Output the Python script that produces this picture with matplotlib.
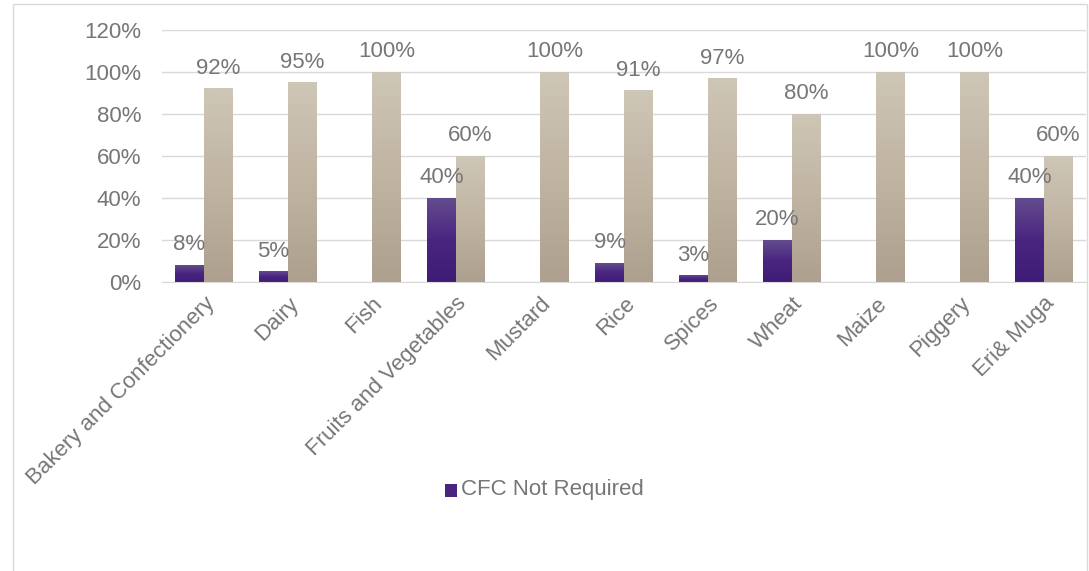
import numpy as np
import matplotlib
matplotlib.use("Agg")
import matplotlib.pyplot as plt
from matplotlib.patches import Rectangle
from matplotlib.colors import LinearSegmentedColormap

categories = ["Bakery and Confectionery", "Dairy", "Fish", "Fruits and Vegetables",
              "Mustard", "Rice", "Spices", "Wheat", "Maize", "Piggery", "Eri& Muga"]
not_required = [8, 5, 0, 40, 0, 9, 3, 20, 0, 0, 40]
required = [92, 95, 100, 60, 100, 91, 97, 80, 100, 100, 60]
yticks = [0, 20, 40, 60, 80, 100, 120]

plt.rcParams['font.family'] = ['Liberation Sans', 'DejaVu Sans']
grey = "#767676"
fs = 16

purple_cmap = LinearSegmentedColormap.from_list("p", ["#3e1c76", "#4a2580", "#634c8e"])
beige_cmap = LinearSegmentedColormap.from_list("b", ["#ada08f", "#c0b4a2", "#cec6b6"])

fig = plt.figure(figsize=(10.89, 5.71), dpi=100)
ax = fig.add_axes([162/1089, 1-282/571, 924/1089, 252/571])

x = np.arange(len(categories))
w = 0.345
grad = np.linspace(0, 1, 100).reshape(-1, 1)


def gradient_bars(xs, vals, cmap, label):
    bars = ax.bar(xs, vals, w, color="none", label=label)
    for b in bars:
        h = b.get_height()
        if h <= 0:
            continue
        x0 = b.get_x()
        ax.imshow(grad, extent=[x0, x0 + w, 0, h], origin="lower", cmap=cmap,
                  aspect="auto", zorder=2)
    for xi, v in zip(xs, vals):
        if v > 0:
            ax.annotate(f"{v}%", (xi, v), xytext=(0, 7), textcoords="offset points",
                        ha="center", va="bottom", fontsize=fs, color=grey)
    return bars


gradient_bars(x - w/2, not_required, purple_cmap, "CFC Not Required")
gradient_bars(x + w/2, required, beige_cmap, "_CFC Required")

ax.set_xlim(-0.5, len(categories) - 0.5)
ax.set_ylim(0, 120)
ax.set_yticks(yticks)
ax.set_yticklabels([f"{t}%" for t in yticks], fontsize=fs, color=grey)
ax.set_xticks(x)
ax.set_xticklabels(categories, rotation=45, ha="right", rotation_mode="anchor",
                   fontsize=fs, color=grey)
ax.tick_params(axis="y", length=0, pad=15)
ax.tick_params(axis="x", length=0, pad=8)
for s in ["top", "right", "left"]:
    ax.spines[s].set_visible(False)
ax.spines["bottom"].set_color("#d9d9d9")
ax.grid(axis="y", color="#d9d9d9", linewidth=1)
ax.set_axisbelow(True)

# legend (only the first series is shown)
fig.patches.append(Rectangle((445/1089, 1-497/571), 12/1089, 13/571,
                             transform=fig.transFigure, facecolor="#4a2580",
                             edgecolor="none"))
fig.text(461/1089, 1-490/571, "CFC Not Required", fontsize=fs, color=grey,
         va="center", ha="left")

# chart frame
fig.patches.append(Rectangle((13/1089, -0.01), 1074/1089, 1 - 4/571 + 0.01,
                             transform=fig.transFigure, facecolor="none",
                             edgecolor="#d9d9d9", linewidth=1))

fig.savefig("out.png", dpi=100)
